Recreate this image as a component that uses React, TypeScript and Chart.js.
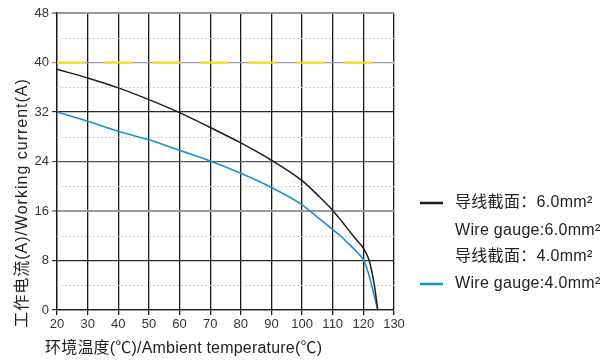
import React, { useEffect, useRef } from "react";
import { Chart, registerables } from "chart.js";

Chart.register(...registerables);

const temps6 = [20, 30, 40, 50, 60, 70, 80, 90, 100, 105, 110, 113, 116, 118, 120, 121.9, 122.8, 123.6, 124.7];
const current6 = [38.9, 37.5, 35.9, 34.0, 31.9, 29.5, 27.0, 24.2, 20.9, 18.6, 16.1, 14.3, 12.4, 11.2, 10.0, 8.0, 6.1, 4.0, 0];
const temps4 = [20, 30, 40, 50, 60, 70, 80, 90, 100, 105, 110, 112.5, 115, 118, 120, 121.5, 122.7, 124.7];
const current4 = [32, 30.5, 28.9, 27.5, 25.8, 24.1, 22.1, 19.8, 17.0, 15.0, 13.0, 12.0, 10.8, 9.3, 8.1, 6.2, 4.0, 0];
const ratedTemps = [20, 130];
const ratedCurrent = [40, 40];
const minorTicks = [4, 12, 20, 28, 36, 44];
const legendLabels = ["导线截面：6.0mm²", "Wire gauge:6.0mm²", "导线截面：4.0mm²", "Wire gauge:4.0mm²"];
const legendColors = ["#1e1e1e", null, null, "#1a8fd2"];
const xTitle = "环境温度(℃)/Ambient temperature(℃)";
const yTitle = "工作电流(A)/Working current(A)";

const FONT = "'Liberation Sans', Arial, 'Noto Sans CJK SC', sans-serif";

export default function App() {
  const ref = useRef<HTMLCanvasElement>(null);
  useEffect(() => {
    if (!ref.current) return;
    const decor = {
      id: "decor",
      beforeDatasetsDraw(chart: any) {
        const ctx = chart.ctx;
        const { left, right } = chart.chartArea;
        const y = chart.scales.y;
        ctx.save();
        ctx.strokeStyle = "#cfcfcf";
        ctx.lineWidth = 1;
        ctx.setLineDash([2, 2]);
        for (const v of minorTicks) {
          const py = Math.round(y.getPixelForValue(v)) + 0.5;
          ctx.beginPath();
          ctx.moveTo(left, py);
          ctx.lineTo(right, py);
          ctx.stroke();
        }
        ctx.restore();
      },
      afterDraw(chart: any) {
        const ctx = chart.ctx;
        ctx.save();
        ctx.fillStyle = "#222";
        ctx.font = `16px ${FONT}`;
        ctx.textBaseline = "middle";
        ctx.textAlign = "left";
        (ctx as any).letterSpacing = "0.2px";
        ctx.fillText(xTitle, 45, 349);
        ctx.translate(23, 203);
        ctx.rotate(-Math.PI / 2);
        ctx.textAlign = "center";
        (ctx as any).letterSpacing = "1px";
        ctx.fillText(yTitle, 0, 0);
        ctx.restore();

        ctx.save();
        ctx.font = `16px ${FONT}`;
        (ctx as any).letterSpacing = "0.3px";
        ctx.textBaseline = "middle";
        ctx.textAlign = "left";
        const ys = [203, 231, 257, 284];
        legendLabels.forEach((t, i) => {
          const c = legendColors[i];
          if (c) {
            ctx.strokeStyle = c;
            ctx.lineWidth = 2.5;
            ctx.beginPath();
            ctx.moveTo(420, ys[i]);
            ctx.lineTo(443, ys[i]);
            ctx.stroke();
          }
          ctx.fillStyle = "#222";
          ctx.fillText(t, 455, ys[i]);
        });
        ctx.restore();
      },
    };
    const hColor = (v: number) => {
      if (v === 48 || v === 16 || v === 40) return "#9a9a9a";
      if (v === 24) return "#555";
      return "#2a2a2a";
    };
    const chart = new Chart(ref.current, {
      type: "line",
      data: {
        datasets: [
          {
            label: "rated",
            data: ratedTemps.map((x, i) => ({ x, y: ratedCurrent[i] })),
            borderColor: "#f2df00",
            borderWidth: 2,
            borderDash: [28, 20],
            pointRadius: 0,
          },
          {
            label: legendLabels[0],
            data: temps6.map((x, i) => ({ x, y: current6[i] })),
            borderColor: "#1e1e1e",
            borderWidth: 1.5,
            pointRadius: 0,
            cubicInterpolationMode: "monotone",
          },
          {
            label: legendLabels[3],
            data: temps4.map((x, i) => ({ x, y: current4[i] })),
            borderColor: "#1a8fd2",
            borderWidth: 1.6,
            pointRadius: 0,
            cubicInterpolationMode: "monotone",
          },
        ],
      },
      plugins: [decor],
      options: {
        animation: false,
        responsive: false,
        maintainAspectRatio: false,
        layout: { padding: { top: 13, right: 222, left: 0, bottom: 0 } },
        plugins: { legend: { display: false }, tooltip: { enabled: false } },
        scales: {
          x: {
            type: "linear",
            min: 20,
            max: 130,
            ticks: { stepSize: 10, color: "#333", font: { size: 13, family: FONT }, padding: 2 },
            grid: { color: "#1a1a1a", lineWidth: 1.3, tickLength: 5 },
            border: { color: "#1a1a1a", width: 1.3 },
            afterFit: (s: any) => { s.height = 51; },
          },
          y: {
            min: 0,
            max: 48,
            ticks: { stepSize: 8, color: "#333", font: { size: 13, family: FONT }, padding: 3 },
            grid: {
              color: (c: any) => hColor(c.tick?.value),
              lineWidth: (c: any) => (c.tick?.value === 48 || c.tick?.value === 16 ? 2 : 1.2),
              tickLength: 5,
            },
            border: { color: "#1a1a1a", width: 1.3 },
            afterFit: (s: any) => { s.width = 57; },
          },
        },
      },
    });
    return () => chart.destroy();
  }, []);
  return (
    <div style={{ position: "fixed", left: 0, top: 0, width: 616, height: 361, background: "#fff" }}>
      <canvas ref={ref} width={616} height={361} style={{ width: 616, height: 361 }} />
    </div>
  );
}
